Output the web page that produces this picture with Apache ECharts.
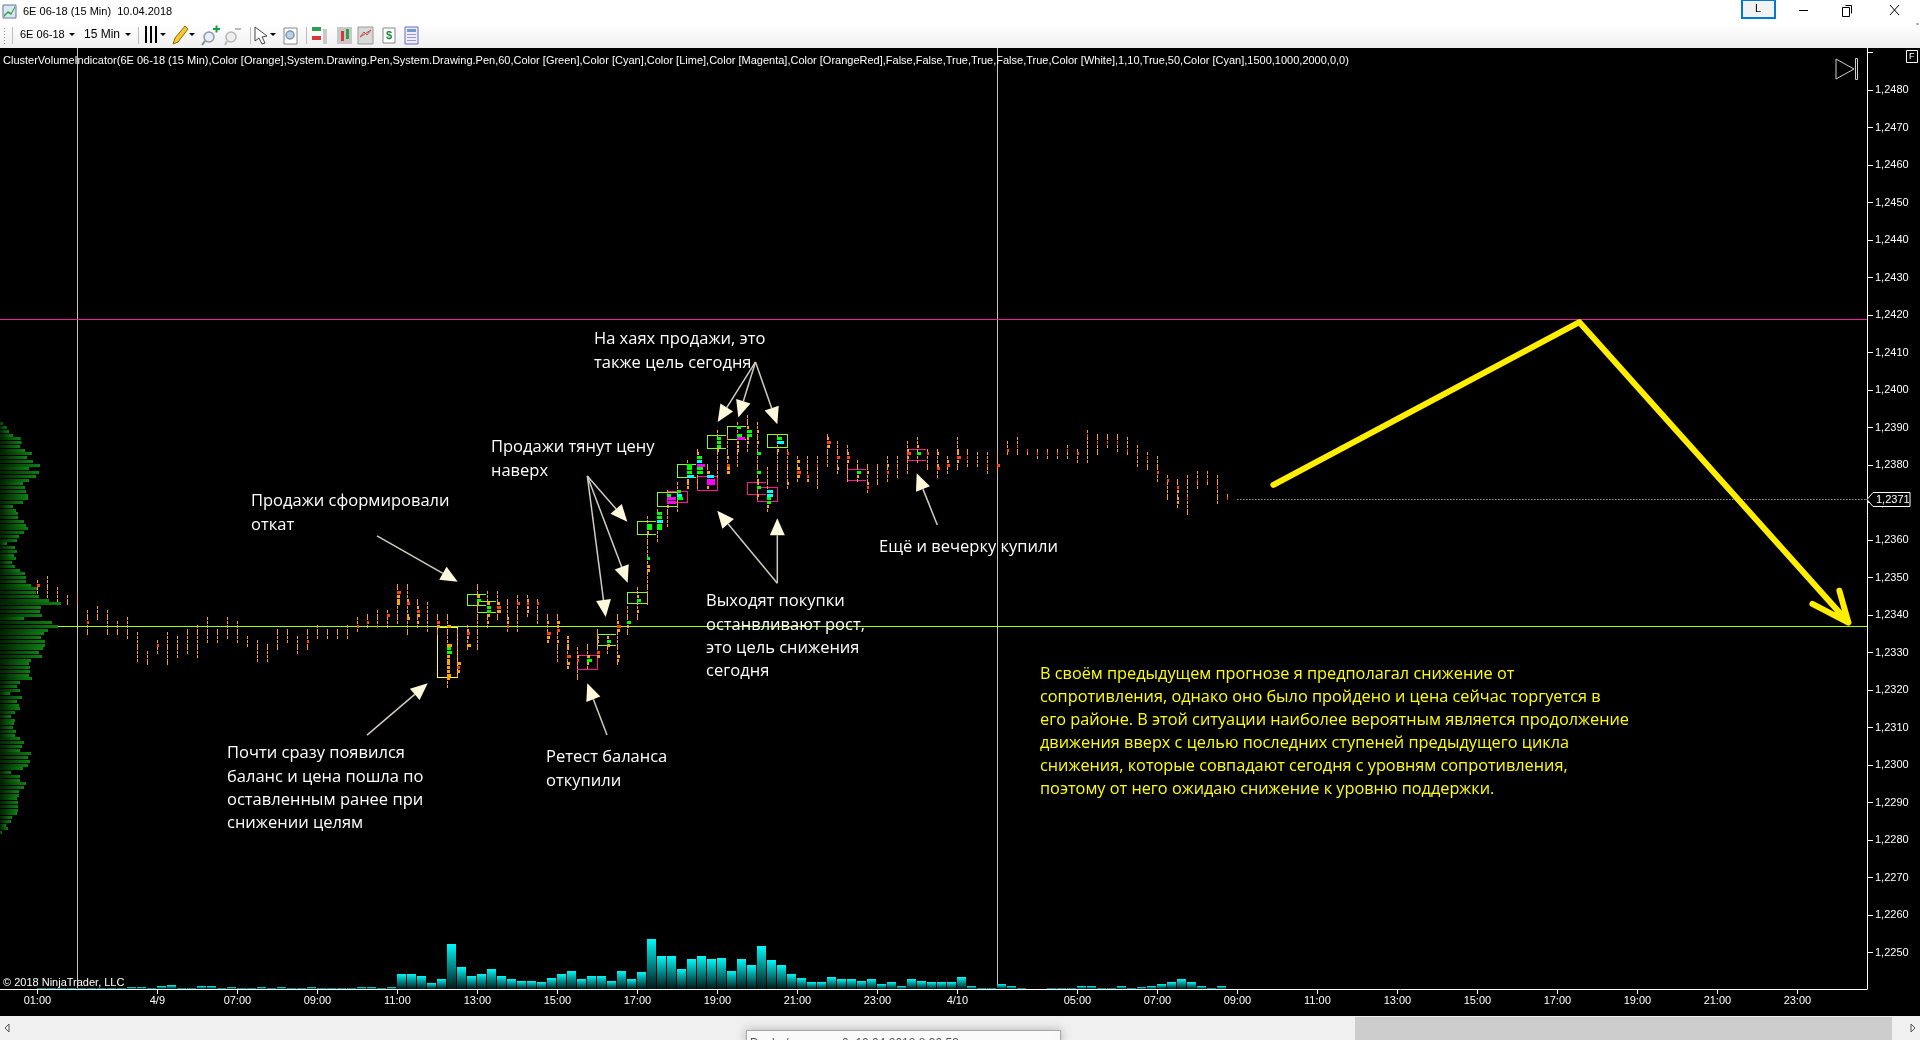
<!DOCTYPE html>
<html>
<head>
<meta charset="utf-8">
<title>6E 06-18 (15 Min)</title>
<style>html,body{margin:0;padding:0;background:#000;overflow:hidden}#chart{width:1920px;height:1040px}</style>
<script src="https://cdn.jsdelivr.net/npm/echarts@6/dist/echarts.min.js"></script>
</head>
<body>
<div id="chart"></div>
<script>
// 15-minute bars of 6E 06-18, one entry per bar
const columnHigh = [1.2349,1.2350,1.2347,1.2345,1.2345,1.2341,1.2342,1.2341,1.2338,1.2339,1.2335,1.2330,1.2333,1.2335,1.2334,1.2336,1.2337,1.2339,1.2336,1.2339,
 1.2338,1.2334,1.2333,1.2332,1.2336,1.2336,1.2334,1.2336,1.2337,1.2336,1.2336,1.2337,1.2339,1.2340,1.2341,1.2341,1.2348,1.2348,1.2344,1.2343,
 1.2340,1.2340,1.2336,1.2337,1.2348,1.2346,1.2346,1.2344,1.2345,1.2345,1.2344,1.2340,1.2340,1.2334,1.2331,1.2332,1.2336,1.2334,1.2340,1.2342,
 1.2347,1.2366,1.2368,1.2373,1.2375,1.2381,1.2384,1.2380,1.2389,1.2388,1.2391,1.2393,1.2391,1.2379,1.2388,1.2384,1.2382,1.2382,1.2382,1.2388,
 1.2386,1.2385,1.2381,1.2380,1.2380,1.2382,1.2382,1.2386,1.2387,1.2384,1.2384,1.2382,1.2387,1.2384,1.2383,1.2383,1.2383,1.2386,1.2387,1.2384,
 1.2384,1.2384,1.2384,1.2385,1.2384,1.2389,1.2388,1.2388,1.2388,1.2387,1.2385,1.2383,1.2382,1.2377,1.2376,1.2377,1.2378,1.2378,1.2377,1.2372];
const columnLow = [1.2346,1.2345,1.2344,1.2343,1.2343,1.2335,1.2339,1.2335,1.2335,1.2334,1.2328,1.2327,1.2330,1.2327,1.2329,1.2330,1.2329,1.2333,1.2333,1.2334,
 1.2333,1.2332,1.2328,1.2328,1.2331,1.2333,1.2330,1.2331,1.2334,1.2334,1.2334,1.2334,1.2336,1.2337,1.2337,1.2337,1.2338,1.2335,1.2337,1.2336,
 1.2335,1.2321,1.2324,1.2331,1.2331,1.2337,1.2339,1.2336,1.2336,1.2340,1.2338,1.2333,1.2328,1.2326,1.2323,1.2326,1.2329,1.2330,1.2327,1.2335,
 1.2339,1.2343,1.2360,1.2364,1.2368,1.2374,1.2374,1.2374,1.2377,1.2378,1.2380,1.2384,1.2371,1.2368,1.2376,1.2374,1.2376,1.2376,1.2374,1.2380,
 1.2378,1.2376,1.2376,1.2373,1.2375,1.2376,1.2377,1.2378,1.2381,1.2379,1.2377,1.2378,1.2379,1.2380,1.2380,1.2378,1.2378,1.2383,1.2383,1.2383,
 1.2382,1.2382,1.2382,1.2382,1.2381,1.2381,1.2383,1.2385,1.2384,1.2383,1.2380,1.2379,1.2376,1.2371,1.2369,1.2367,1.2374,1.2375,1.2370,1.2371];

// Bar volume in contracts
const barVolume = [100,100,100,100,100,100,100,100,100,200,200,100,300,400,100,100,300,300,100,200,
 100,100,200,100,200,100,100,200,100,100,100,100,200,200,100,200,1500,1500,1300,600,
 1000,4500,2200,1300,1500,2000,1300,1000,800,800,700,1100,1500,1800,1000,1300,1300,800,1800,1000,
 1700,5000,3300,3300,2000,3000,3300,3000,3100,1800,3000,2400,4300,2900,2400,1500,1100,700,700,1200,
 1000,1000,800,1000,500,700,300,1000,800,700,700,700,1200,300,100,100,500,300,100,0,
 0,100,100,100,300,300,100,100,300,100,200,300,500,700,1000,700,300,100,300,0];

// Session volume by price level, highest level first
const profileTopPrice = 1.2391;
const profileVolume = [8,20,27,39,62,65,60,75,96,81,99,120,87,117,108,87,69,75,78,84,84,69,39,48,54,54,72,78,84,72,57,51,21,45,51,42,48,36,45,60,
 75,78,78,93,114,108,117,147,183,123,120,126,72,156,174,144,132,123,135,135,129,117,126,93,87,90,90,87,96,60,51,60,30,66,51,57,60,45,33,45,
 42,39,48,45,60,72,66,60,93,84,90,84,69,33,60,60,78,72,57,57,51,54,54,54,51,36,33,18,24,6];

// Highlighted cluster cells: [bar, price, cell volume]
const redCells = [[0,1.2348,3],[5,1.2338,2],[12,1.2332,2],[27,1.2333,2],[32,1.2337,2],[33,1.2338,2],[34,1.2337,1],[35,1.2340,3],[36,1.2346,4],[37,1.2343,3],[38,1.2341,3],[40,1.2338,3],
 [42,1.2326,3],[43,1.2335,3],[46,1.2342,4],[47,1.2337,2],[48,1.2343,3],[49,1.2343,2],[50,1.2343,2],[51,1.2335,4],[52,1.2336,3],[53,1.2329,4],[54,1.2328,2],[56,1.2330,3],[58,1.2337,4],
 [69,1.2380,3],[75,1.2383,2],[76,1.2378,4],[77,1.2377,2],[78,1.2380,1],[79,1.2386,4],[80,1.2382,3],[81,1.2382,3],[83,1.2374,2],[85,1.2378,2],[86,1.2379,1],[87,1.2383,4],[89,1.2383,2],
 [90,1.2379,3],[91,1.2380,3],[92,1.2382,4],[93,1.2382,1],[95,1.2380,1],[96,1.2380,3],[97,1.2384,2],[98,1.2385,1],[99,1.2384,1],[100,1.2383,1],[101,1.2383,1],[102,1.2383,1],[103,1.2384,1],
 [104,1.2383,2],[105,1.2388,1],[106,1.2386,1],[107,1.2386,1],[108,1.2386,1],[109,1.2384,1],[110,1.2383,1],[111,1.2382,1],[112,1.2378,2],[113,1.2376,2],[114,1.2374,2],[115,1.2371,1],
 [116,1.2376,1],[117,1.2376,1],[118,1.2374,1],[119,1.2371,1]];
const orangeCells = [[36,1.2345,3],[36,1.2344,3],[36,1.2343,3],[37,1.2344,2],[37,1.2340,2],[37,1.2339,3],[38,1.2342,2],[38,1.2340,3],[38,1.2338,2],[40,1.2337,3],
 [41,1.2337,4],[41,1.2332,5],[41,1.2329,3],[41,1.2328,3],[41,1.2327,3],[41,1.2326,3],[41,1.2325,3],[41,1.2324,4],[41,1.2323,3],[42,1.2327,4],[42,1.2325,3],
 [43,1.2336,2],[43,1.2334,2],[43,1.2332,4],[44,1.2345,3],[44,1.2343,2],[45,1.2343,3],[45,1.2340,3],[45,1.2338,2],[46,1.2343,3],[46,1.2341,4],[47,1.2339,2],[47,1.2338,2],
 [49,1.2344,2],[49,1.2342,2],[49,1.2341,2],[51,1.2338,2],[51,1.2334,3],[51,1.2333,2],[52,1.2338,3],[52,1.2337,2],[52,1.2333,2],[53,1.2334,2],[53,1.2333,2],[53,1.2332,2],[53,1.2331,2],[53,1.2327,3],[53,1.2326,2],
 [54,1.2329,2],[55,1.2329,3],[55,1.2327,2],[56,1.2334,2],[56,1.2333,2],[56,1.2329,3],[57,1.2334,2],[57,1.2332,3],[58,1.2338,2],[58,1.2336,3],[58,1.2329,3],[58,1.2328,2],[59,1.2337,2],
 [60,1.2345,2],[60,1.2341,2],[61,1.2362,2],[61,1.2353,3],[61,1.2352,3],[63,1.2369,2],[65,1.2376,2],[65,1.2375,2],[65,1.2374,2],[66,1.2383,2],[67,1.2378,3],[67,1.2374,2],[68,1.2384,2],
 [69,1.2382,2],[69,1.2379,3],[69,1.2378,3],[70,1.2386,2],[70,1.2385,2],[70,1.2384,2],[71,1.2390,2],[71,1.2387,2],[71,1.2386,2],[72,1.2389,2],[72,1.2386,2],[72,1.2376,2],[72,1.2375,2],[72,1.2372,2],
 [73,1.2369,2],[74,1.2384,2],[75,1.2375,2],[76,1.2381,3],[76,1.2379,3],[76,1.2377,3],[77,1.2376,2],[79,1.2387,2],[79,1.2385,3],[80,1.2379,2],[81,1.2383,2],[81,1.2381,2],[82,1.2377,2],
 [83,1.2378,2],[83,1.2375,2],[85,1.2380,2],[87,1.2384,2],[87,1.2382,2],[88,1.2385,2],[90,1.2383,2],[90,1.2380,2],[91,1.2381,2],[92,1.2384,2],[92,1.2383,2],[92,1.2381,2],[114,1.2373,2],[114,1.2371,2],[114,1.2370,2]];
const limeCells = [[41,1.2331,4],[41,1.2330,5],[44,1.2344,4],[45,1.2342,4],[45,1.2341,4],[55,1.2328,5],[57,1.2333,4],[59,1.2338,4],[60,1.2344,4],[61,1.2355,3],[61,1.2364,5],[61,1.2363,5],
 [62,1.2367,5],[62,1.2366,5],[62,1.2364,5],[62,1.2363,5],[63,1.2372,4],[64,1.2373,4],[64,1.2371,6],[65,1.2380,5],[65,1.2379,5],[65,1.2378,5],[66,1.2382,5],[66,1.2379,6],[66,1.2378,6],
 [68,1.2387,4],[68,1.2386,4],[68,1.2385,4],[70,1.2390,4],[70,1.2388,5],[71,1.2389,5],[71,1.2388,5],[72,1.2383,4],[72,1.2378,4],[72,1.2374,4],[73,1.2371,4],[73,1.2370,4],[74,1.2387,5],[82,1.2378,4],[88,1.2383,4]];
const cyanCells = [[62,1.2365,6],[64,1.2372,5],[65,1.2377,7],[66,1.2381,5],[67,1.2377,7],[73,1.2373,6],[73,1.2372,6],[74,1.2386,7]];
const magentaCells = [[63,1.2371,9],[63,1.2370,9],[66,1.2380,8],[67,1.2376,8],[67,1.2375,8],[70,1.2387,8]];

// Balance zones: [first bar, upper price, lower price, right edge closed]
const limeZones = [[43,1.23455,1.23426,0],[44,1.23437,1.23408,0],[56,1.23349,1.23319,0],[59,1.23461,1.23432,1],[60,1.23651,1.23616,0],[62,1.23728,1.23691,1],[64,1.23803,1.23768,0],[67,1.2388,1.23845,0],[69,1.23904,1.23869,0],[73,1.23883,1.23848,1]];
const magentaZones = [[54,1.23293,1.23256,1],[63,1.23731,1.23701,1],[66,1.23771,1.23733,1],[71,1.23755,1.23723,0],[72,1.23741,1.23704,1],[81,1.23789,1.2376,0],[87,1.23843,1.23813,0]];
const yellowZones = [[40,1.23369,1.23234,1]];

// Levels and markers on the price panel
const pocPrice = 1.2337;
const resistancePrice = 1.2419;
const lastPrice = 1.2371;
const lastBar = 120;
const sessionBars = [4, 96];

// Forecast drawn by the trader: [bar, price]
const forecastPath = [[123.6,1.23747],[154.2,1.24181],[181.1,1.2338],[177.5,1.2343],[181.1,1.2338],[180.2,1.23465]];

// Callout arrows: [tail bar, tail price, tip bar, tip price]
const callouts = [[33.96,1.23611,42.03,1.23489],[32.96,1.2308,39.03,1.23218],[56.96,1.2308,54.99,1.23218],
 [54.99,1.23771,58.99,1.23649],[54.99,1.23771,59.03,1.23486],[54.99,1.23771,56.83,1.23395],
 [73.99,1.23485,67.99,1.23678],[73.99,1.23485,73.99,1.23658],
 [71.81,1.24075,68.03,1.23915],[71.81,1.24075,70.09,1.23927],[71.81,1.24075,73.99,1.23909],[89.99,1.2364,87.93,1.23778]];

// Axis ticks
const timeTickBars = [0,12,20,28,36,44,52,60,68,76,84,92,104,112,120,128,136,144,152,160,168,176];
const timeTickLabels = ['01:00','4/9','07:00','09:00','11:00','13:00','15:00','17:00','19:00','21:00','23:00','4/10','05:00','07:00','09:00','11:00','13:00','15:00','17:00','19:00','21:00','23:00'];
const priceTicks = [1.2250,1.2260,1.2270,1.2280,1.2290,1.2300,1.2310,1.2320,1.2330,1.2340,1.2350,1.2360,1.2370,1.2380,1.2390,1.2400,1.2410,1.2420,1.2430,1.2440,1.2450,1.2460,1.2470,1.2480];

const indicatorTitle = 'ClusterVolumeIndicator(6E 06-18 (15 Min),Color [Orange],System.Drawing.Pen,System.Drawing.Pen,60,Color [Green],Color [Cyan],Color [Lime],Color [Magenta],Color [OrangeRed],False,False,True,True,False,True,Color [White],1,10,True,50,Color [Cyan],1500,1000,2000,0,0)';

// Free-text notes on the chart, as [text, left, middle of first line]
const notes = [
 ['Продажи сформировали\nоткат', 251, 502],
 ['Почти сразу появился\nбаланс и цена пошла по\nоставленным ранее при\nснижении целям', 227, 754],
 ['Ретест баланса\nоткупили', 546, 758],
 ['Продажи тянут цену\nнаверх', 491, 448],
 ['На хаях продажи, это\nтакже цель сегодня', 594, 340],
 ['Выходят покупки\nостанвливают рост,\nэто цель снижения\nсегодня', 706, 602],
 ['Ещё и вечерку купили', 879, 548]
];
const forecastNote = 'В своём предыдущем прогнозе я предполагал снижение от\nсопротивления, однако оно было пройдено и цена сейчас торгуется в\nего районе. В этой ситуации наиболее вероятным является продолжение\nдвижения вверх с целью последних ступеней предыдущего цикла\nснижения, которые совпадают сегодня с уровням сопротивления,\nпоэтому от него ожидаю снижение к уровню поддержки.';

const chart = echarts.init(document.getElementById('chart'), null, {renderer: 'canvas'});

const COL = {orange:'#FFA500', red:'#FF4500', lime:'#00FF00', cyan:'#00FFFF', magenta:'#FF00FF', zoneLime:'#8FF81E', zonePink:'#FF1493', zoneYellow:'#FFFF33', poc:'#A0FF20', text:'#FFFFFF'};
const GRID = {left:0, top:48, width:1867, height:941};
const TICK = 0.0001;

function crisp(v){ return Math.round(v); }

// One dash per traded price level
function renderColumn(params, api){
  const bar = api.value(0), hi = api.value(1), lo = api.value(2);
  const x = Math.floor(api.coord([bar, hi])[0]);
  const children = [];
  const n = Math.round((hi - lo) / TICK);
  for (let i = 0; i <= n; i++) {
    const cy = api.coord([bar, hi - i * TICK])[1];
    children.push({type:'rect', shape:{x:x, y:crisp(cy - 1.5), width:1, height:3}, style:{fill:COL.orange}});
  }
  return {type:'group', children};
}

function cellRenderer(color){
  return function(params, api){
    const p = api.coord([api.value(0), api.value(1)]);
    return {type:'rect', shape:{x:Math.floor(p[0]), y:crisp(p[1] - 1.5), width:api.value(2), height:3}, style:{fill:color}};
  };
}

function zoneRenderer(color){
  return function(params, api){
    const bar = api.value(0), closed = api.value(3);
    const tl = api.coord([bar, api.value(1)]);
    const br = api.coord([bar + 2, api.value(2)]);
    const x0 = Math.floor(tl[0]), y0 = crisp(tl[1]), y1 = crisp(br[1]);
    const x1 = closed ? Math.floor(br[0]) : Math.floor(br[0]) - 1;
    const w = x1 - x0;
    const side = (x, y, width, height) => ({type:'rect', shape:{x, y, width, height}, style:{fill:color}});
    const children = [side(x0, y0, w, 1), side(x0, y1, w, 1), side(x0, y0, 1, y1 - y0 + 1)];
    if (closed) children.push(side(x1, y0, 1, y1 - y0 + 1));
    return {type:'group', children};
  };
}

function cellSeries(data, color, z){
  return {type:'custom', xAxisIndex:0, yAxisIndex:0, data, z, silent:true, renderItem:cellRenderer(color), encode:{x:0, y:1}};
}
function zoneSeries(data, color){
  return {type:'custom', xAxisIndex:0, yAxisIndex:0, data, z:3, silent:true, renderItem:zoneRenderer(color), encode:{x:0, y:[1,2]}};
}

const option = {
  animation:false,
  backgroundColor:'#000000',
  textStyle:{fontFamily:'"Liberation Sans", Arial, sans-serif'},
  grid:[
    {left:GRID.left, top:GRID.top, width:GRID.width, height:GRID.height, containLabel:false},
    {left:GRID.left, top:GRID.top + GRID.height - 100, width:GRID.width, height:100}
  ],
  xAxis:[
    {type:'value', gridIndex:0, min:-3.74, max:182.96, splitLine:{show:false},
     axisLine:{show:true, onZero:false, lineStyle:{color:'#FFFFFF', width:1}},
     axisTick:{show:true, length:5, lineStyle:{color:'#FFFFFF'}, customValues:timeTickBars},
     axisLabel:{show:true, color:'#FFFFFF', fontSize:11, margin:6, customValues:timeTickBars,
       formatter:v => timeTickLabels[timeTickBars.indexOf(v)] || ''}},
    {type:'value', gridIndex:0, min:0, max:5601, show:false},
    {type:'value', gridIndex:1, min:-3.74, max:182.96, show:false}
  ],
  yAxis:[
    {type:'value', gridIndex:0, position:'right', min:1.22403, max:1.24912, splitLine:{show:false},
     axisLine:{show:true, onZero:false, lineStyle:{color:'#FFFFFF', width:1}},
     axisTick:{show:true, length:6, lineStyle:{color:'#FFFFFF'}, customValues:priceTicks},
     axisLabel:{show:true, color:'#FFFFFF', fontSize:11, margin:8, padding:[2,0,0,0], customValues:priceTicks,
       formatter:v => v.toFixed(4).replace('.', ',')}},
    {type:'value', gridIndex:1, min:0, max:10000, show:false}
  ],
  series:[
    // Bar volume panel
    {type:'custom', xAxisIndex:2, yAxisIndex:1, z:2, silent:true, encode:{x:0, y:1},
     data:barVolume.map((v, i) => [i, v]),
     renderItem(params, api){
       const v = api.value(1);
       if (!v) return null;
       const top = api.coord([api.value(0), v]);
       const base = api.coord([api.value(0), 0]);
       return {type:'rect', shape:{x:Math.floor(top[0]), y:crisp(top[1]), width:9, height:crisp(base[1]) - crisp(top[1])},
         style:{fill:new echarts.graphic.LinearGradient(0,0,0,1,[{offset:0,color:'#00FAFA'},{offset:1,color:'#001616'}])}};
     }},
    // Session dividers
    {type:'custom', xAxisIndex:0, yAxisIndex:0, z:1, silent:true, encode:{x:0}, data:sessionBars.map(b => [b]),
     renderItem(params, api){
       const x = Math.floor(api.coord([api.value(0), 1.23])[0]);
       return {type:'rect', shape:{x, y:GRID.top, width:1, height:GRID.height}, style:{fill:'#C4C4C4'}};
     }},
    // Horizontal price levels
    {type:'custom', xAxisIndex:0, yAxisIndex:0, z:1, silent:true, encode:{y:0},
     data:[[pocPrice, 0], [resistancePrice, 1]],
     renderItem(params, api){
       const y = crisp(api.coord([0, api.value(0)])[1]);
       return {type:'rect', shape:{x:GRID.left, y, width:GRID.width, height:1}, style:{fill:api.value(1) ? '#F0209A' : COL.poc}};
     }},
    // Last traded price
    {type:'custom', xAxisIndex:0, yAxisIndex:0, z:2, silent:true, clip:false, encode:{x:0, y:1}, data:[[lastBar, lastPrice]],
     renderItem(params, api){
       const p = api.coord([api.value(0), api.value(1)]);
       const y = crisp(p[1]) + 0.5;
       const right = GRID.left + GRID.width;
       return {type:'group', children:[
         {type:'line', shape:{x1:p[0], y1:y, x2:right, y2:y}, style:{stroke:'#F0F0F0', lineWidth:1, lineDash:[1,2]}},
         {type:'polygon', z2:20, shape:{points:[[right,y],[right+6,y-7],[right+43,y-7],[right+43,y+7],[right+6,y+7]]}, style:{fill:'#000000', stroke:'#FFFFFF', lineWidth:1}},
         {type:'text', z2:21, style:{x:right+9, y:y, text:api.value(1).toFixed(4).replace('.', ','), fill:'#FFFFFF', font:'11px "Liberation Sans"', verticalAlign:'middle'}}
       ]};
     }},
    // Session volume profile
    {type:'custom', xAxisIndex:1, yAxisIndex:0, z:4, silent:true, encode:{x:0, y:1},
     data:profileVolume.map((v, i) => [v, +(profileTopPrice - i * TICK).toFixed(4)]),
     renderItem(params, api){
       const end = api.coord([api.value(0), api.value(1)]);
       const w = end[0];
       return {type:'rect', shape:{x:0, y:crisp(end[1] - 1.5), width:w, height:3},
         style:{fill:new echarts.graphic.LinearGradient(0,0,1,0,[{offset:0,color:'#002000'},{offset:1,color:'#0E8012'}])}};
     }},
    zoneSeries(limeZones, COL.zoneLime),
    zoneSeries(magentaZones, COL.zonePink),
    zoneSeries(yellowZones, COL.zoneYellow),
    // Cluster columns
    {type:'custom', xAxisIndex:0, yAxisIndex:0, z:5, silent:true, encode:{x:0, y:[1,2]},
     data:columnHigh.map((h, i) => [i, h, columnLow[i]]), renderItem:renderColumn},
    cellSeries(orangeCells, COL.orange, 6),
    cellSeries(redCells, COL.red, 6),
    cellSeries(limeCells, COL.lime, 7),
    cellSeries(cyanCells, COL.cyan, 7),
    cellSeries(magentaCells, COL.magenta, 7),
    // Callout arrows
    {type:'custom', xAxisIndex:0, yAxisIndex:0, z:8, silent:true, clip:false, encode:{x:[0,2], y:[1,3]}, data:callouts,
     renderItem(params, api){
       const a = api.coord([api.value(0), api.value(1)]);
       const b = api.coord([api.value(2), api.value(3)]);
       const len = Math.hypot(b[0]-a[0], b[1]-a[1]);
       const ux = (b[0]-a[0])/len, uy = (b[1]-a[1])/len;
       const bx = b[0]-ux*17, by = b[1]-uy*17;
       return {type:'group', children:[
         {type:'line', shape:{x1:a[0], y1:a[1], x2:bx, y2:by}, style:{stroke:'#CFCBBE', lineWidth:1.5}},
         {type:'polygon', shape:{points:[[b[0],b[1]],[bx-uy*7.5,by+ux*7.5],[bx+uy*7.5,by-ux*7.5]]}, style:{fill:'#FFF8DC'}}
       ]};
     }},
    // Forecast path
    {type:'line', xAxisIndex:0, yAxisIndex:0, z:9, silent:true, showSymbol:false, clip:false, data:forecastPath,
     lineStyle:{color:'#FFEE00', width:6, join:'round', cap:'round'}}
  ],
  graphic:{elements:buildFurniture()}
};

// Window frame, toolbar, indicator caption, notes and scrollbar around the plot
function buildFurniture(){
  const els = [];
  const rect = (x,y,w,h,fill,extra) => els.push(Object.assign({type:'rect', silent:true, z:100, shape:{x,y,width:w,height:h}, style:{fill}}, extra||{}));
  const poly = (pts,fill,stroke) => els.push({type:'polygon', silent:true, z:101, shape:{points:pts}, style:{fill:fill||'none', stroke:stroke||null, lineWidth:1}});
  const line = (x1,y1,x2,y2,stroke,w) => els.push({type:'line', silent:true, z:101, shape:{x1,y1,x2,y2}, style:{stroke, lineWidth:w||1}});
  const text = (t,x,y,font,fill,extra) => els.push(Object.assign({type:'text', silent:true, z:102, x, y, style:{text:t, font, fill, verticalAlign:'middle', textAlign:'left'}}, extra||{}));
  const circle = (cx,cy,r,fill,stroke) => els.push({type:'circle', silent:true, z:101, shape:{cx,cy,r}, style:{fill:fill||'none', stroke:stroke||null, lineWidth:1.5}});

  // Title bar
  rect(0,0,1920,24,'#FFFFFF');
  rect(0,24,1920,24,null,{style:{fill:new echarts.graphic.LinearGradient(0,0,0,1,[{offset:0,color:'#FFFFFF'},{offset:1,color:'#EFEFEF'}])}});
  rect(3,5,13,13,'#DCE6F0',{style:{fill:'#DCE6F0', stroke:'#5A7A9A', lineWidth:1}});
  poly([[4,15],[8,11],[11,13],[15,6],[15,8],[11,15],[8,13],[4,17]],'#2E9E4A');
  text('6E 06-18 (15 Min)  10.04.2018',23,12,'11px "Liberation Sans"','#000000');

  rect(1742,0,33,18,'#F2F2F2',{style:{fill:'#F2F2F2', stroke:'#0078D7', lineWidth:2}});
  text('L',1755,9,'11px "Liberation Sans"','#000000');
  line(1799,10.5,1808,10.5,'#000000');
  rect(1842.5,7.5,7,9,'#FFFFFF',{style:{fill:'#FFFFFF', stroke:'#000000', lineWidth:1}});
  line(1845.5,5.5,1851.5,5.5,'#000000');
  line(1851.5,5.5,1851.5,13.5,'#000000');
  line(1890,5,1899,15,'#000000');
  line(1899,5,1890,15,'#000000');

  // Toolbar
  for (let y=28; y<=44; y+=3) rect(4,y,1,1,'#909090');
  [12,138,250,306].forEach(x => rect(x,27,1,17,'#BDBDBD'));
  text('6E 06-18',20,35,'11px "Liberation Sans"','#000000');
  poly([[69,33],[75,33],[72,36]],'#000000');
  text('15 Min',84,35,'12px "Liberation Sans"','#000000');
  poly([[125,33],[131,33],[128,36]],'#000000');
  [145,150,155].forEach(x => rect(x,26,2,17,'#000000'));
  poly([[160,33],[166,33],[163,36]],'#000000');
  poly([[173,44],[175,38],[185,26],[188,29],[178,42]],'#F6C92B','#8A6A10');
  poly([[189,33],[195,33],[192,36]],'#000000');
  circle(209,37,5,'#E8EEF4','#8A9AAA'); line(205,41,202,45,'#888888',2);
  rect(213,28,7,2,'#14A03C'); rect(215.5,25.5,2,7,'#14A03C');
  circle(231,37,5,'#EEEEEE','#B8B8B8'); line(227,41,225,45,'#BBBBBB',2);
  rect(235,28,6,2,'#BBBBBB');
  poly([[255,27],[255,41],[259,38],[262,44],[265,43],[262,37],[267,36]],'#FFFFFF','#444444');
  poly([[270,33],[276,33],[273,36]],'#000000');
  rect(284,28,13,16,'#FFFFFF',{style:{fill:'#FFFFFF', stroke:'#888888', lineWidth:1}});
  circle(290,35,4,'#BCD2E6','#7A94AA');
  rect(312,27,9,4,'#2E9E4A'); rect(312,36,9,4,'#D23A3A'); rect(323,29,4,15,'#C8C8C8');
  rect(337,27,15,17,'#C8C8C8'); rect(341,31,3,10,'#D23A3A'); rect(346,29,3,10,'#2E9E4A');
  rect(358,27,15,17,'#D8D8D8',{style:{fill:'#D8D8D8', stroke:'#999999', lineWidth:1}});
  poly([[360,37],[364,32],[367,35],[371,30]],null,'#C84A4A');
  rect(383,28,12,15,'#FFFFFF',{style:{fill:'#FFFFFF', stroke:'#888888', lineWidth:1}});
  text('$',386,35.5,'bold 11px "Liberation Sans"','#1C8A3A');
  rect(405,27,13,17,'#F0F0FF',{style:{fill:'#EDEBFF', stroke:'#6E6AAE', lineWidth:1}});
  rect(407,29,9,3,'#6E9BD0'); rect(407,34,9,1,'#9A96C8'); rect(407,37,9,1,'#9A96C8'); rect(407,40,9,1,'#9A96C8');
  line(1916.5,24,1918.5,24,'#333333');

  // Indicator caption and plot corner widgets
  text(indicatorTitle,3,61,'11px "Liberation Sans"','#FFFFFF');
  poly([[1836,59],[1854,69],[1836,79]],null,'#D0D0D0');
  rect(1855.5,58.5,2,21,'#000000',{style:{fill:'#000000', stroke:'#D0D0D0', lineWidth:1}});
  line(1867,52.5,1873,52.5,'#FFFFFF');
  rect(1906.5,50.5,11,12,'#000000',{style:{fill:'#000000', stroke:'#FFFFFF', lineWidth:1}});
  text('F',1909,57,'9px "Liberation Sans"','#FFFFFF');
  text('© 2018 NinjaTrader, LLC',3,983,'11px "Liberation Sans"','#FFFFFF');

  // Notes
  notes.forEach(n => text(n[0],n[1],n[2],'16.5px "Open Sans"','#FFFFFF',{style:{text:n[0], font:'16.5px "Open Sans"', fill:'#FFFFFF', verticalAlign:'top', textAlign:'left', lineHeight:23.3}, y:n[2]-12}));
  text(forecastNote,1040,674,'16.3px "Open Sans"','#FFFF00',{y:663,style:{text:forecastNote, font:'16.3px "Open Sans"', fill:'#FFFF00', verticalAlign:'top', textAlign:'left', lineHeight:23}});

  // Scrollbar strip
  rect(0,1016,1920,24,'#F0F0F0');
  rect(1355,1017,537,23,'#CDCDCD');
  poly([[9,1024],[5,1028],[9,1032]],null,'#555555');
  poly([[1911,1024],[1915,1028],[1911,1032]],null,'#555555');
  rect(746.5,1030.5,314,12,'#FFFFFF',{style:{fill:'#FFFFFF', stroke:'#A8A8A8', lineWidth:1, shadowBlur:10, shadowColor:'rgba(0,0,0,0.25)'}});
  text('Dealer/name       0  10.04.2018 8:30:53',750,1044,'12px "Liberation Sans"','#555555');
  return els;
}

chart.setOption(option);
</script>
</body>
</html>
